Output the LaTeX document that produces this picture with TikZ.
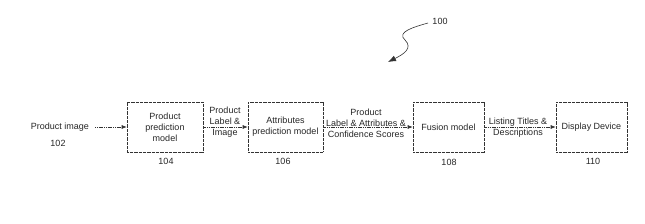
\documentclass[tikz,border=0pt]{standalone}
\usepackage{fontspec}
\setmainfont{Liberation Sans}
\usetikzlibrary{arrows.meta}
\begin{document}
\begin{tikzpicture}[x=1pt,y=-1pt,
  txt/.style={inner sep=0pt,align=center,font=\fontsize{9}{11}\selectfont,text=black!85},
  box/.style={draw=black!80,line width=0.6pt,dash pattern=on 0.9pt off 0.4pt,minimum height=50pt,inner sep=0pt,align=center,font=\fontsize{9}{11}\selectfont,text=black!85},
  conn/.style={draw=black!80,line width=0.6pt,dash pattern=on 1.2pt off 0.6pt,-{Latex[length=5pt,width=4pt]}}]
\useasboundingbox (0,0) rectangle (645,224);
% nodes
\node[txt] (in) at (60,127) {Product image};
\node[txt] (n102) at (58,143) {102};
\node[box,minimum width=76pt] (b104) at (165,127) {Product\\prediction\\model};
\node[txt] (n104) at (166,161) {104};
\node[box,minimum width=75pt] (b106) at (285.5,127) {Attributes\\prediction model};
\node[txt] (n106) at (283,161) {106};
\node[box,minimum width=71pt] (b108) at (448.5,127) {Fusion model};
\node[txt] (n108) at (449,162) {108};
\node[box,minimum width=71pt] (b110) at (591.5,127) {Display Device};
\node[txt] (n110) at (593,161) {110};
% edge labels
\node[txt] (l1) at (225,122) {Product\\Label \&\\Image};
\node[txt] (l2) at (366,123) {Product\\Label \& Attributes \&\\Confidence Scores};
\node[txt] (l3) at (518,127.5) {Listing Titles \&\\Descriptions};
% connectors
\coordinate (s0) at (95,127);
\draw[conn] (s0) -- (b104.west);
\draw[conn] (b104.east) -- (b106.west);
\draw[conn] (b106.east) -- (b108.west);
\draw[conn] (b108.east) -- (b110.west);
% reference 100
\node[txt] (n100) at (440,21) {100};
\coordinate (s100) at (428,23);
\coordinate (tip) at (388,62);
\draw[draw=black!80,line width=0.6pt,-{Latex[length=8pt,width=6pt]}]
  (s100) .. controls (414,27) and (396,32) .. (405,40)
  .. controls (413,48) and (404,54) .. (tip);
\end{tikzpicture}
\end{document}
